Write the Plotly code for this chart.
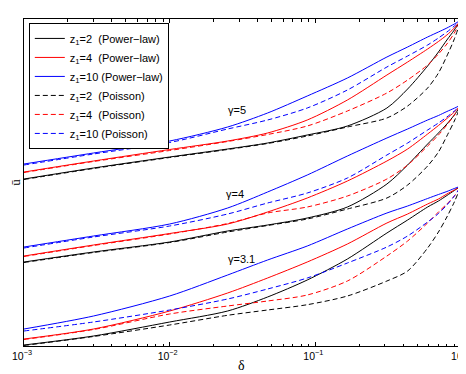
import numpy as np
import plotly.graph_objects as go

# delta grid (x values)
delta = [0.001, 0.003, 0.01, 0.025, 0.047, 0.088, 0.166, 0.31, 0.43, 0.59, 0.7, 0.8, 0.9, 1.0]

# u-bar values (arbitrary units)
# gamma = 5
g5_pl_z2  = [1.67, 1.78, 1.89, 1.97, 2.03, 2.11, 2.20, 2.38, 2.57, 2.80, 2.94, 3.06, 3.16, 3.26]
g5_pl_z4  = [1.74, 1.85, 1.965, 2.05, 2.13, 2.26, 2.46, 2.71, 2.84, 2.97, 3.045, 3.11, 3.18, 3.26]
g5_pl_z10 = [1.82, 1.93, 2.05, 2.19, 2.33, 2.50, 2.68, 2.89, 2.99, 3.09, 3.14, 3.18, 3.22, 3.26]
g5_po_z2  = [1.665, 1.775, 1.885, 1.965, 2.025, 2.10, 2.19, 2.28, 2.40, 2.58, 2.73, 2.90, 3.07, 3.26]
g5_po_z4  = [1.735, 1.845, 1.955, 2.045, 2.115, 2.20, 2.35, 2.53, 2.66, 2.81, 2.92, 3.02, 3.13, 3.26]
g5_po_z10 = [1.81, 1.92, 2.035, 2.17, 2.26, 2.38, 2.56, 2.79, 2.90, 3.01, 3.08, 3.14, 3.20, 3.26]
# gamma = 4
g4_pl_z2  = [0.84, 0.94, 1.04, 1.15, 1.21, 1.28, 1.39, 1.62, 1.81, 2.02, 2.13, 2.22, 2.31, 2.41]
g4_pl_z4  = [0.90, 1.01, 1.125, 1.22, 1.34, 1.48, 1.65, 1.85, 1.97, 2.12, 2.205, 2.275, 2.34, 2.41]
g4_pl_z10 = [0.99, 1.10, 1.22, 1.38, 1.54, 1.71, 1.90, 2.08, 2.17, 2.26, 2.305, 2.345, 2.378, 2.41]
g4_po_z2  = [0.835, 0.935, 1.035, 1.14, 1.205, 1.27, 1.37, 1.48, 1.61, 1.80, 1.94, 2.10, 2.25, 2.41]
g4_po_z4  = [0.895, 1.005, 1.12, 1.225, 1.33, 1.39, 1.50, 1.67, 1.81, 2.00, 2.11, 2.21, 2.31, 2.41]
g4_po_z10 = [0.98, 1.09, 1.20, 1.32, 1.43, 1.53, 1.68, 1.91, 2.03, 2.16, 2.23, 2.29, 2.35, 2.41]
# gamma = 3.1
g3_pl_z2  = [0.01, 0.10, 0.24, 0.35, 0.49, 0.66, 0.87, 1.13, 1.26, 1.39, 1.45, 1.505, 1.555, 1.60]
g3_pl_z4  = [0.07, 0.17, 0.35, 0.53, 0.68, 0.84, 1.02, 1.23, 1.32, 1.42, 1.47, 1.52, 1.56, 1.60]
g3_pl_z10 = [0.17, 0.30, 0.50, 0.71, 0.86, 1.00, 1.17, 1.33, 1.40, 1.475, 1.515, 1.545, 1.575, 1.60]
g3_po_z2  = [0.005, 0.095, 0.21, 0.307, 0.36, 0.413, 0.50, 0.65, 0.75, 0.98, 1.14, 1.29, 1.44, 1.60]
g3_po_z4  = [0.065, 0.165, 0.32, 0.40, 0.45, 0.51, 0.65, 0.90, 1.05, 1.23, 1.34, 1.42, 1.50, 1.60]
g3_po_z10 = [0.15, 0.24, 0.36, 0.47, 0.57, 0.68, 0.83, 0.99, 1.10, 1.24, 1.325, 1.41, 1.50, 1.60]

legend_names = ["z<sub>1</sub>=2\u00a0\u00a0(Power\u2212law)",
                "z<sub>1</sub>=4\u00a0\u00a0(Power\u2212law)",
                "z<sub>1</sub>=10\u00a0(Power\u2212law)",
                "z<sub>1</sub>=2\u00a0\u00a0(Poisson)",
                "z<sub>1</sub>=4\u00a0\u00a0(Poisson)",
                "z<sub>1</sub>=10\u00a0(Poisson)"]
colors = ["#000000", "#ff0000", "#0000ff"]

x_ticks = [0.001, 0.01, 0.1, 1]
x_ticktext = ["10<sup>\u22123</sup>", "10<sup>\u22122</sup>", "10<sup>\u22121</sup>", "10<sup>0</sup>"]
gamma_labels = ["\u03b3=5", "\u03b3=4", "\u03b3=3.1"]
gamma_label_pos = [(-1.54, 2.36), (-1.55, 1.52), (-1.51, 0.87)]

groups = [
    [g5_pl_z2, g5_pl_z4, g5_pl_z10, g5_po_z2, g5_po_z4, g5_po_z10],
    [g4_pl_z2, g4_pl_z4, g4_pl_z10, g4_po_z2, g4_po_z4, g4_po_z10],
    [g3_pl_z2, g3_pl_z4, g3_pl_z10, g3_po_z2, g3_po_z4, g3_po_z10],
]

fig = go.Figure()
for gi, grp in enumerate(groups):
    for k, yv in enumerate(grp):
        dash = "solid" if k < 3 else "5px,3px"
        fig.add_trace(go.Scatter(
            x=delta, y=yv, mode="lines",
            line=dict(color=colors[k % 3], width=1, dash=dash,
                      shape="spline", smoothing=0.8),
            name=legend_names[k], showlegend=(gi == 0), legendrank=k + 1,
        ))

minor_vals = [m * 10.0 ** e for e in (-3, -2, -1) for m in range(2, 10)]

fig.update_layout(
    width=466, height=374,
    margin=dict(l=16, r=13, t=11, b=36, autoexpand=False),
    paper_bgcolor="white", plot_bgcolor="white",
    font=dict(family="Liberation Sans, Arial, sans-serif", size=11, color="black"),
    showlegend=True,
    legend=dict(x=0.011, y=0.988, xanchor="left", yanchor="top",
                bgcolor="white", bordercolor="black", borderwidth=1,
                font=dict(size=11), tracegroupgap=0, itemwidth=30),
    xaxis=dict(type="log", range=[-3, 0], tickvals=x_ticks, ticktext=x_ticktext,
               ticks="inside", ticklen=4, tickcolor="black", showgrid=False,
               showline=True, linecolor="black", linewidth=1, mirror="allticks",
               zeroline=False, tickfont=dict(size=10.5), automargin=False,
               ticklabelstandoff=0, ticklabelshift=-2,
               minor=dict(ticks="inside", ticklen=2.5, tickvals=minor_vals,
                          tickcolor="black", showgrid=False)),
    yaxis=dict(range=[0, 3.27], showticklabels=False, ticks="", showgrid=False,
               showline=True, linecolor="black", linewidth=1, mirror=True,
               zeroline=False, automargin=False,
               title=dict(text="\u016b", standoff=5,
                          font=dict(size=13, family="Liberation Serif, serif"))),
)

for txt, (lx, ly) in zip(gamma_labels, gamma_label_pos):
    fig.add_annotation(x=lx, y=ly, xref="x", yref="y", text=txt, showarrow=False,
                       font=dict(size=11, family="Liberation Sans, Arial, sans-serif"))

fig.add_annotation(x=0.497, y=-0.06, xref="paper", yref="paper", text="\u03b4",
                   xanchor="center", yanchor="middle",
                   showarrow=False, font=dict(size=14, family="Liberation Serif, serif"))

fig.write_html("out.html")
